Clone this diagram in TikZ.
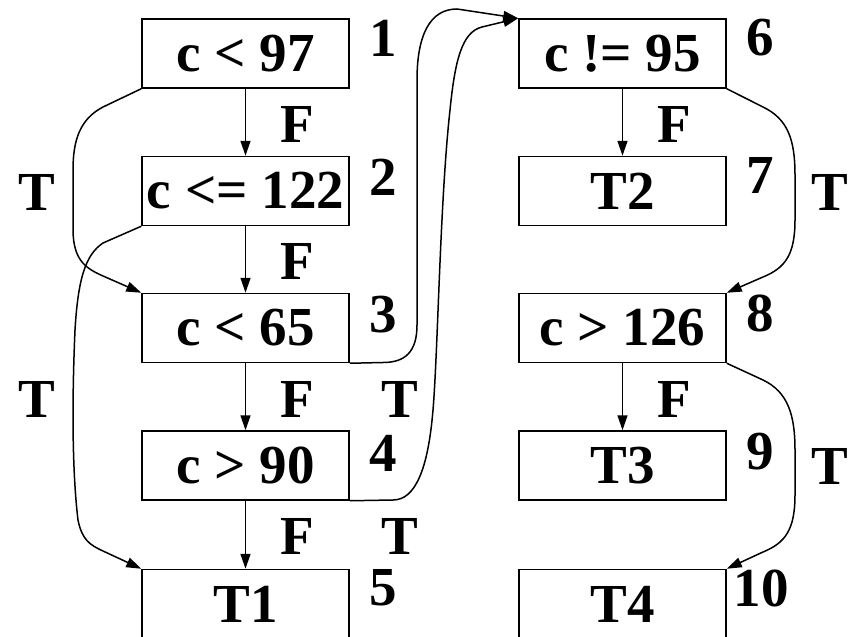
\documentclass[tikz,border=0pt]{standalone}
\usepackage{fontspec}
\setmainfont{Liberation Serif}
\usetikzlibrary{arrows.meta}
\begin{document}
\begin{tikzpicture}[x=1pt,y=-1pt,
  box/.style={draw,line width=1.5pt,minimum width=207pt,minimum height=69pt,inner sep=0pt,font=\fontsize{55}{60}\selectfont\bfseries},
  lbl/.style={inner sep=0pt,font=\fontsize{55}{60}\selectfont\bfseries},
  conn/.style={line width=1.5pt,-{Triangle[length=15pt,width=10pt]}},
  ]
\useasboundingbox (0,0) rectangle (849,637);
\clip (0,0) rectangle (849,637);
% boxes
\node[box] (n1) at (245.5,53.5) {c < 97};
\node[box] (n2) at (245.5,191) {c <= 122};
\node[box] (n3) at (245.5,328) {c < 65};
\node[box] (n4) at (245.5,465.5) {c > 90};
\node[box] (n5) at (245.5,604) {T1};
\node[box] (n6) at (622.5,53.5) {c != 95};
\node[box] (n7) at (622.5,191) {T2};
\node[box] (n8) at (622.5,328) {c > 126};
\node[box] (n9) at (622.5,465.5) {T3};
\node[box] (n10) at (622.5,604) {T4};
% numbers
\node[lbl] (k1) at (383,38) {1};
\node[lbl] (k2) at (383,177) {2};
\node[lbl] (k3) at (383,315) {3};
\node[lbl] (k4) at (383,453) {4};
\node[lbl] (k5) at (383,588) {5};
\node[lbl] (k6) at (760,38) {6};
\node[lbl] (k7) at (760,175) {7};
\node[lbl] (k8) at (760,313) {8};
\node[lbl] (k9) at (760,452) {9};
\node[lbl] (k10) at (761,588) {10};
% edge labels
\node[lbl] (f12) at (297,124) {F};
\node[lbl] (f23) at (297,261) {F};
\node[lbl] (f34) at (297,399) {F};
\node[lbl] (f45) at (297,536) {F};
\node[lbl] (f67) at (674,124) {F};
\node[lbl] (f89) at (674,399) {F};
\node[lbl] (t13) at (37,192) {T};
\node[lbl] (t25) at (37,399) {T};
\node[lbl] (t36) at (400,399) {T};
\node[lbl] (t46) at (400,536) {T};
\node[lbl] (t68) at (830,192) {T};
\node[lbl] (t810) at (830,466) {T};
% connectors
\draw[conn] (n1) -- (n2);
\draw[conn] (n2) -- (n3);
\draw[conn] (n3) -- (n4);
\draw[conn] (n4) -- (n5);
\draw[conn] (n6) -- (n7);
\draw[conn] (n8) -- (n9);
\draw[conn] (n1.south west) -- (103,107) .. controls (80,119) and (73,140) .. (73,170) -- (73,232) .. controls (74,260) and (85,268) .. (103,276) -- (n3.north west);
\draw[conn] (n2.south west) -- (103,243) .. controls (85,255) and (78,280) .. (75,330) .. controls (72,400) and (72,470) .. (78,520) .. controls (82,540) and (90,545) .. (103,551) -- (n5.north west);
\draw[conn] (n3.south east) -- (383,362.5) .. controls (405,362.5) and (417,352) .. (417,325) -- (417,80) .. controls (417,35) and (430,9) .. (457,9) -- (n6.north west);
\draw[conn] (n4.south east) -- (393,500) .. controls (415,500) and (428,470) .. (433,410) .. controls (438,350) and (440,200) .. (450,110) .. controls (455,60) and (462,32) .. (482,27) -- (n6.north west);
\draw[conn] (n6.south east) -- (763,107) .. controls (788,119) and (795,140) .. (795,175) -- (795,220) .. controls (795,255) and (785,268) .. (763,277) -- (n8.north east);
\draw[conn] (n8.south east) -- (763,380) .. controls (788,392) and (795,415) .. (795,450) -- (795,495) .. controls (795,530) and (785,543) .. (763,552) -- (n10.north east);
\end{tikzpicture}
\end{document}
